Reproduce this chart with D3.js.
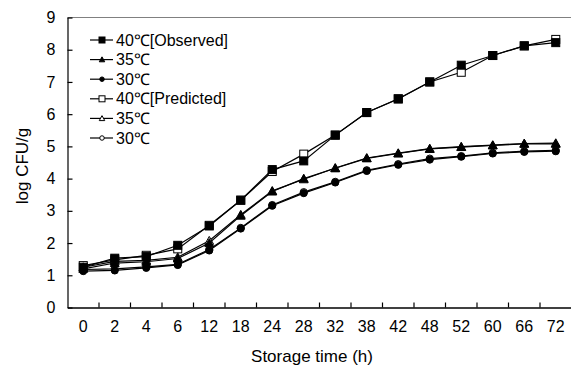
<!DOCTYPE html>
<html lang="en">
	<head>
		<meta charset="utf-8">
		<title>Growth curves</title>
		<script type="text/javascript" src="https://cdnjs.cloudflare.com/ajax/libs/d3/7.8.5/d3.min.js"></script>
		<style type="text/css">
			body { margin: 0; background: #fff; }
			text { font-family: "Liberation Sans", Arial, sans-serif; fill: #000; }
		</style>
	</head>
	<body>
		<script type="text/javascript">

			var w = 571;
			var h = 366;

			// storage time categories (h)
			var times = ['0','2','4','6','12','18','24','28','32','38','42','48','52','60','66','72'];

			var obs40  = [1.25,1.53,1.58,1.93,2.53,3.33,4.28,4.55,5.35,6.05,6.47,7.00,7.52,7.82,8.12,8.22];
			var obs35  = [1.20,1.38,1.42,1.52,2.00,2.85,3.60,4.00,4.32,4.63,4.78,4.92,4.98,5.03,5.08,5.08];
			var obs30  = [1.13,1.15,1.23,1.32,1.77,2.45,3.16,3.55,3.88,4.24,4.43,4.59,4.68,4.78,4.83,4.85];
			var pred40 = [1.30,1.48,1.62,1.82,2.55,3.33,4.22,4.76,5.35,6.05,6.48,7.00,7.30,7.82,8.12,8.32];
			var pred35 = [1.25,1.43,1.46,1.56,2.07,2.88,3.62,3.98,4.33,4.64,4.79,4.93,4.99,5.04,5.09,5.10];
			var pred30 = [1.18,1.20,1.26,1.34,1.80,2.47,3.18,3.58,3.90,4.26,4.45,4.62,4.70,4.80,4.85,4.88];

			var yTicks = [0,1,2,3,4,5,6,7,8,9];

			var series = [
				{name:'40℃[Observed]',  values:obs40,  shape:'square',   fill:'#000'},
				{name:'35℃',            values:obs35,  shape:'triangle', fill:'#000'},
				{name:'30℃',            values:obs30,  shape:'circle',   fill:'#000'},
				{name:'40℃[Predicted]', values:pred40, shape:'square',   fill:'#fff'},
				{name:'35℃',            values:pred35, shape:'triangle', fill:'#fff'},
				{name:'30℃',            values:pred30, shape:'circle',   fill:'#fff'}
			];

			var pLeft = 67.5, pRight = 571.5, pTop = 17.5, pBottom = 307.5;
			var font = '"Liberation Sans", Arial, sans-serif';

			var xScale = d3.scaleBand()
							.domain(times)
							.range([pLeft, pRight]);

			var yScale = d3.scaleLinear()
							.domain([0, 9])
							.range([pBottom, pTop]);

			var svg = d3.select('body')
							.append('svg')
							.attr('width', w)
							.attr('height', h);

			// top frame line
			svg.append('line')
				.attr('x1', pLeft).attr('x2', pRight)
				.attr('y1', pTop).attr('y2', pTop)
				.attr('stroke', '#808080')
				.attr('stroke-width', 1.2);

			// y axis
			svg.append('g')
				.attr('transform', `translate(${pLeft},0)`)
				.call(d3.axisLeft(yScale).tickValues(yTicks).tickSizeInner(-5).tickSizeOuter(0).tickPadding(12))
				.call(g => g.selectAll('.domain, line').attr('stroke', '#000').attr('stroke-width', 1.2))
				.call(g => g.selectAll('text').attr('font-size', 16).attr('font-family', font));

			// x axis: labels centred in bands, ticks on band edges
			var xAxis = svg.append('g')
				.attr('transform', `translate(0,${pBottom})`)
				.call(d3.axisBottom(xScale).tickSize(0).tickPadding(13))
				.call(g => g.select('.domain').attr('stroke', '#000').attr('stroke-width', 1.6))
				.call(g => g.selectAll('text').attr('font-size', 16).attr('font-family', font));

			xAxis.selectAll('line.edge')
				.data(times.slice(1))
				.enter()
				.append('line')
				.attr('x1', d => xScale(d))
				.attr('x2', d => xScale(d))
				.attr('y1', 0)
				.attr('y2', -5)
				.attr('stroke', '#000')
				.attr('stroke-width', 1.2);

			var cx = (d, i) => xScale(times[i]) + xScale.bandwidth() / 2;

			var line = d3.line()
							.x(cx)
							.y(d => yScale(d));

			function marker(sel, shape, fill, size) {
				if (shape === 'circle') {
					sel.append('circle').attr('r', size * 0.45);
				} else if (shape === 'square') {
					sel.append('rect')
						.attr('x', -size / 2).attr('y', -size / 2)
						.attr('width', size).attr('height', size);
				} else {
					var s = size * 0.55;
					sel.append('path').attr('d', `M0,${-s}L${s},${s * 0.8}L${-s},${s * 0.8}Z`);
				}
				sel.selectAll('*')
					.attr('fill', fill)
					.attr('stroke', '#000')
					.attr('stroke-width', 1);
			}

			var msize = {square: 8, triangle: 8, circle: 8};

			// draw predicted first so observed markers sit on top
			var order = [3, 4, 5, 0, 1, 2];
			order.forEach(function (k) {
				var s = series[k];
				svg.append('path')
					.datum(s.values)
					.attr('fill', 'none')
					.attr('stroke', '#000')
					.attr('stroke-width', 1.2)
					.attr('d', line);

				svg.append('g')
					.selectAll('g')
					.data(s.values)
					.enter()
					.append('g')
					.attr('transform', (d, i) => `translate(${cx(d, i)},${yScale(d)})`)
					.each(function () { marker(d3.select(this), s.shape, s.fill, msize[s.shape]); });
			});

			// legend
			var legend = svg.append('g');
			series.forEach(function (s, i) {
				var ly = 40 + i * 19.6;
				var row = legend.append('g').attr('transform', `translate(0,${ly})`);
				row.append('line')
					.attr('x1', 90).attr('x2', 113)
					.attr('y1', 0).attr('y2', 0)
					.attr('stroke', '#000')
					.attr('stroke-width', 1.2);
				var m = row.append('g').attr('transform', 'translate(102,0)');
				marker(m, s.shape, s.fill, s.shape === 'square' ? 6 : 5);
				row.append('text')
					.attr('x', 116)
					.attr('y', 5.5)
					.attr('font-size', 16)
					.text(s.name);
			});

			// axis titles
			svg.append('text')
				.attr('x', 312)
				.attr('y', 362)
				.attr('text-anchor', 'middle')
				.attr('font-size', 17)
				.text('Storage time (h)');

			svg.append('text')
				.attr('transform', 'translate(28,166) rotate(-90)')
				.attr('text-anchor', 'middle')
				.attr('font-size', 17)
				.text('log CFU/g');
		</script>
	</body>
</html>
